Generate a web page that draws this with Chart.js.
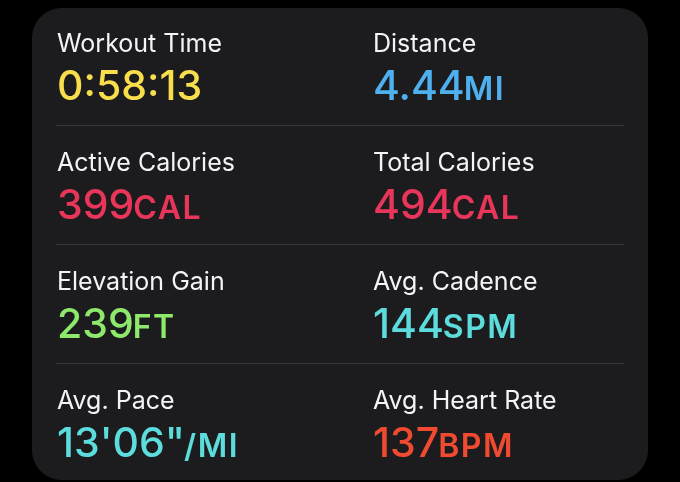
<!DOCTYPE html>
<html>
<head>
<meta charset="utf-8">
<script src="https://cdn.jsdelivr.net/npm/chart.js@4.4.1/dist/chart.umd.min.js"></script>
<style>
  html, body { margin: 0; padding: 0; background: #000; }
  #wrap { width: 680px; height: 482px; }
</style>
</head>
<body>
<div id="wrap"><canvas id="c" width="680" height="482"></canvas></div>
<script>
// ---- data ----
const metricLabels = ['Workout Time', 'Distance', 'Active Calories', 'Total Calories', 'Elevation Gain', 'Avg. Cadence', 'Avg. Pace', 'Avg. Heart Rate'];
const metricValues = ['0:58:13', '4.44', '399', '494', '239', '144', '13\'06"', '137'];
const metricUnits = ['', 'MI', 'CAL', 'CAL', 'FT', 'SPM', '/MI', 'BPM'];
const gridCol = [0, 1, 0, 1, 0, 1, 0, 1];
const gridRow = [0, 0, 1, 1, 2, 2, 3, 3];
const metricColors = ['#f8de4c', '#4fb0ef', '#e8365a', '#e8365a', '#8de86c', '#5cdcdc', '#5cdcdc', '#f04a30'];

const cardPlugin = {
  id: 'card',
  beforeDraw(chart) {
    const ctx = chart.ctx;
    ctx.save();
    ctx.fillStyle = '#000';
    ctx.fillRect(0, 0, chart.width, chart.height);
    const x = 32, y = 8, w = 616, h = 472, r = 30;
    ctx.fillStyle = '#1c1c1e';
    ctx.beginPath();
    ctx.roundRect(x, y, w, h, r);
    ctx.fill();
    // row dividers between rows, via y scale
    const ys = chart.scales.y;
    ctx.strokeStyle = '#38383a';
    ctx.lineWidth = 1;
    for (let rIdx = 0; rIdx < 3; rIdx++) {
      const py = Math.round(ys.getPixelForValue(rIdx) + 73) + 0.5;
      ctx.beginPath();
      ctx.moveTo(56, py);
      ctx.lineTo(624, py);
      ctx.stroke();
    }
    ctx.restore();
  },
  afterDatasetsDraw(chart) {
    const ctx = chart.ctx;
    const meta = chart.getDatasetMeta(0);
    ctx.save();
    ctx.textBaseline = 'alphabetic';
    ctx.textAlign = 'left';
    meta.data.forEach((pt, i) => {
      const px = pt.x, py = pt.y;
      ctx.letterSpacing = '0px';
      ctx.fillStyle = '#f4f4f6';
      ctx.font = '400 25px Inter';
      ctx.fillText(metricLabels[i], px, py);
      ctx.fillStyle = metricColors[i];
      ctx.font = '500 41px Inter';
      ctx.fillText(metricValues[i], px, py + 48);
      const vw = ctx.measureText(metricValues[i]).width;
      ctx.font = '600 32px Inter';
      ctx.letterSpacing = '1.5px';
      ctx.fillText(metricUnits[i], px + vw - 1, py + 48);
    });
    ctx.restore();
  }
};

new Chart(document.getElementById('c'), {
  type: 'scatter',
  data: {
    datasets: [{
      data: gridCol.map((c, i) => ({ x: c, y: gridRow[i] })),
      pointRadius: 0,
      pointHoverRadius: 0
    }]
  },
  options: {
    responsive: false,
    animation: false,
    events: [],
    layout: { padding: { left: 57, right: 307, top: 52, bottom: 73 } },
    plugins: { legend: { display: false }, tooltip: { enabled: false } },
    scales: {
      x: { type: 'linear', min: 0, max: 1, display: false },
      y: { type: 'linear', min: 0, max: 3, reverse: true, display: false }
    }
  },
  plugins: [cardPlugin]
});
</script>
</body>
</html>
